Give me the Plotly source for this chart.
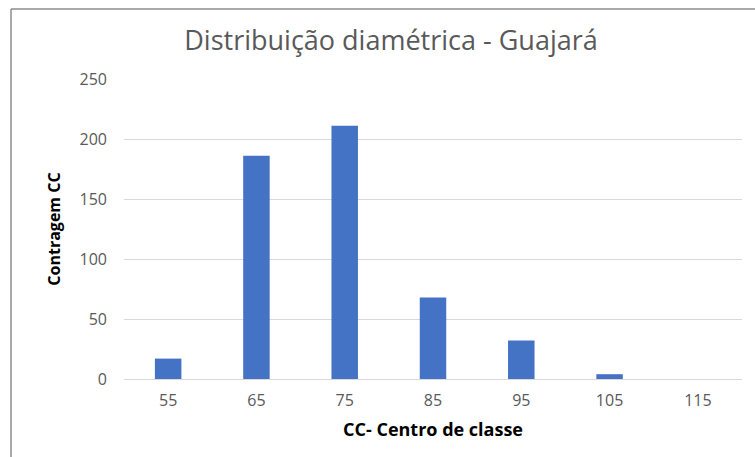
import plotly.graph_objects as go

categories = ["55", "65", "75", "85", "95", "105", "115"]
counts = [17, 186, 211, 68, 32, 4, 0]
y_ticks = [0, 50, 100, 150, 200, 250]

W, H = 755, 457
L, R, T, B = 124, 13, 79, 78
pw, ph = W - L - R, H - T - B

def px_x(px):
    return (px - L) / pw

def px_y(py):
    return (H - B - py) / ph

FONT = "Open Sans, Lato, sans-serif"

fig = go.Figure(go.Bar(x=categories, y=counts, marker=dict(color="#4472c4", line=dict(width=0))))

fig.update_layout(
    width=W, height=H,
    margin=dict(l=L, r=R, t=T, b=B),
    plot_bgcolor="white", paper_bgcolor="white",
    bargap=0.7,
    showlegend=False,
    font=dict(family=FONT, color="#595959"),
    title=dict(text="Distribuição diamétrica - Guajará", x=391 / W, xanchor="center",
               y=1 - 41 / H, yanchor="middle", xref="container", yref="container",
               font=dict(size=27, color="#595959", family=FONT)),
    xaxis=dict(type="category", showgrid=False, showline=False, ticks="",
               tickfont=dict(size=16, color="#595959"), ticklabelstandoff=10,
               title=dict(text="<b>CC- Centro de classe</b>", standoff=13,
                          font=dict(size=18, color="#000000"))),
    yaxis=dict(range=[0, 250], tickvals=y_ticks, showgrid=True, gridcolor="#d9d9d9", gridwidth=1,
               zeroline=True, zerolinecolor="#d9d9d9", zerolinewidth=1,
               showline=False, ticks="", ticklen=0,
               tickfont=dict(size=16, color="#595959"), ticklabelstandoff=16,
               title=dict(text="<b>Contragem CC</b>", standoff=14,
                          font=dict(size=16, color="#000000"))),
    shapes=[
        dict(type="line", xref="paper", yref="paper", x0=px_x(11), x1=px_x(756), y0=px_y(9), y1=px_y(9),
             line=dict(color="#8c8c8c", width=1.5)),
        dict(type="line", xref="paper", yref="paper", x0=px_x(11), x1=px_x(11), y0=px_y(9), y1=px_y(458),
             line=dict(color="#8c8c8c", width=1.5)),
    ],
)

fig.write_html("out.html", config=dict(displayModeBar=False),
               post_script="document.body.style.margin='0';document.body.style.overflow='hidden';")
